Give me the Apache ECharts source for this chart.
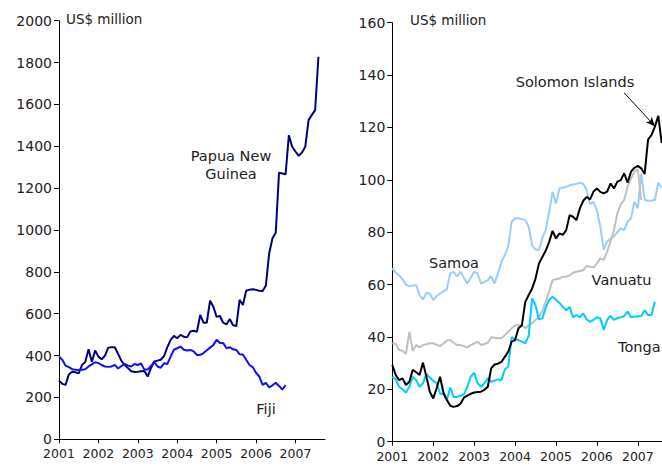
<!DOCTYPE html>
<html>
<head>
<meta charset="utf-8">
<script src="https://cdn.jsdelivr.net/npm/echarts@6/dist/echarts.min.js"></script>
<style>
html,body{margin:0;padding:0;background:#fff;}
#chartBox{width:662px;height:466px;}
</style>
</head>
<body>
<div id="chartBox"></div>
<script>
// monthly data, Jan 2001 onwards
var yearLabels=['2001','2002','2003','2004','2005','2006','2007'];
var leftTicks=[0,200,400,600,800,1000,1200,1400,1600,1800,2000];
var rightTicks=[0,20,40,60,80,100,120,140,160];

var png=[280,265,260,310,323,320,315,355,370,430,370,424,395,382,400,438,440,440,408,375,
	355,340,325,322,323,325,326,300,340,372,376,380,398,440,475,494,483,499,490,487,
	515,519,514,594,557,557,662,633,585,589,557,549,575,545,541,666,642,710,715,717,
	714,710,709,735,889,960,987,1274,1270,1266,1453,1398,1375,1354,1370,1398,1525,1550,1573,1828];
var fiji=[395,380,352,345,335,332,331,332,335,348,358,368,364,355,348,346,348,356,338,350,
	360,352,348,360,355,362,333,333,350,370,348,342,363,360,395,428,435,443,428,424,
	427,420,403,403,412,425,438,450,476,460,460,435,440,430,427,406,405,380,355,345,
	318,300,260,270,248,258,270,255,238,259];

var samoa=[66.2,64.5,63.5,62,60,59.4,59.6,59.8,56,54.3,56.9,56.6,54.1,55.6,56.6,57.5,58.2,64.3,64.9,63,
	64.9,62.5,60.4,62.5,64.9,64.3,60.4,61,61.7,63.2,60.4,64.3,68.7,71.3,74.5,84,85.3,85.3,85,84.6,
	82.1,75,73.3,73.3,77.8,80.8,87.7,95.4,90.9,96.7,97,97.3,97.9,98.2,98.5,98.9,98.5,96.1,90.7,91.6,
	88.4,82.1,73.3,76.5,77.5,78.4,80,81.5,80.8,84,85.3,91.6,89.1,102.4,92.3,92,92,92.3,98.9,97];
var vanuatu=[37.6,37.3,35,34.7,33.5,42,34.7,36.9,36,36.9,37.2,37.6,37.6,37,36.5,37.5,38.6,38.8,37.8,36.9,
	36.9,36.5,36,36.9,37.5,38.2,36.9,37.3,37.8,39.9,39.7,39.5,39.5,40.7,42,43.3,44.5,44.5,44.5,43.3,
	44.5,45.2,46.5,47.5,50,53.4,57.5,61.7,62,62.3,63,63,63.5,64.5,64.9,65.2,65.5,67.1,66.8,66.6,
	68.1,70,69.4,72.6,76.5,80.8,87.2,90.7,92.3,97.4,100.5,103.1,104,92.3];
var tonga=[24.8,23.8,21,20,18.8,21,24.8,23.5,21,22.3,25.8,24.5,23.3,22.3,18.4,18.1,15.9,20.7,17.1,17.1,
	17.6,18.1,21,24.8,26.3,22.3,21,22.3,24.2,22.9,23.3,23.8,23.5,27.6,28.6,39.9,39.1,38.8,38.2,37.6,
	40.4,54.7,52.2,46.7,47.1,51.3,54.1,55.4,54.2,53,51.5,50.2,51.5,47.5,48.4,47.5,49,46.7,45.8,46.5,
	47.5,47.1,42.7,46.5,48,46.5,47.2,47.5,48,49.7,47.5,47.8,47.8,48,50.2,48.4,48.4,53.4];
var solomon=[29.3,25.5,23.5,24.2,21.6,22.9,27.5,26.5,25.5,30.2,24.8,19.1,16.5,20.4,24.8,18.7,15.9,13.7,13.3,13.6,
	14.5,16.8,17.6,18.3,18.8,19,19.1,19.8,21,28,29.5,29.8,30.5,32.4,34.4,38.2,38.8,43.3,44.5,53.4,
	56,58.5,62.3,68,70.5,73,76.3,80.5,77.6,79.5,79,80.8,86.5,85.9,84.6,89.1,92,93.5,92.5,95.5,
	96.7,95.4,94.8,95.5,98.6,96.7,99.3,99.9,102.5,98.9,103.1,104.6,105.3,104.4,102.2,115.4,117.1,120.3,124.4,114];

function months(n){
	var arr=[];
	for(var i=0;i<n;i++){
		var m=i%12+1;
		arr.push((2001+Math.floor(i/12))+'-'+(m<10?'0'+m:m));
	}
	return arr;
}
var leftMonths=months(82);
var rightMonths=months(80);

var font='DejaVu Sans';

function xAxisCfg(idx,cats){
	return {
		type:'category',
		gridIndex:idx,
		data:cats,
		boundaryGap:false,
		axisLine:{lineStyle:{color:'#000',width:1}},
		axisTick:{show:true,inside:false,length:4,lineStyle:{color:'#000'},
			interval:function(i){return i%12===0;}},
		axisLabel:{
			interval:function(i){return i%12===0;},
			formatter:function(v){return yearLabels[parseInt(v,10)-2001]||'';},
			fontFamily:font,fontSize:12.5,color:'#222',margin:8
		},
		splitLine:{show:false}
	};
}
function yAxisCfg(idx,ticks){
	return {
		type:'value',
		gridIndex:idx,
		min:ticks[0],
		max:ticks[ticks.length-1],
		interval:ticks[1]-ticks[0],
		axisLine:{show:true,lineStyle:{color:'#000',width:1}},
		axisTick:{show:true,inside:false,length:5,lineStyle:{color:'#000'}},
		axisLabel:{fontFamily:font,fontSize:14,color:'#222',margin:7,
			formatter:function(v){return String(v);}},
		splitLine:{show:false}
	};
}
function lineSeries(name,xi,data,color){
	return {
		name:name,
		type:'line',
		xAxisIndex:xi,
		yAxisIndex:xi,
		data:data,
		symbol:'none',
		lineStyle:{color:color,width:2},
		itemStyle:{color:color},
		emphasis:{disabled:true}
	};
}
function txt(x,y,s,align){
	return {type:'text',x:x,y:y,style:{text:s,fontFamily:font,fontSize:14.5,fill:'#222',
		align:align||'center',verticalAlign:'middle'}};
}

var myChart=echarts.init(document.getElementById('chartBox'),null,{renderer:'svg'});
var solomonSeries=lineSeries('Solomon Islands',1,solomon,'#000000');
solomonSeries.markLine={
	silent:true,
	symbol:['none','arrow'],
	symbolSize:[6,9],
	label:{show:false},
	lineStyle:{color:'#000',width:1,type:'solid'},
	data:[[{coord:[rightMonths[68],133.2]},{coord:[rightMonths[77],120.5]}]]
};

option={
	animation:false,
	grid:[
		{left:59,top:20.7,width:266,height:418.6},
		{left:392.3,top:22.7,width:269.4,height:419}
	],
	xAxis:[xAxisCfg(0,leftMonths),xAxisCfg(1,rightMonths)],
	yAxis:[yAxisCfg(0,leftTicks),yAxisCfg(1,rightTicks)],
	series:[
		lineSeries('Papua New Guinea',0,png,'#000080'),
		lineSeries('Fiji',0,fiji,'#1010f0'),
		lineSeries('Samoa',1,samoa,'#99ccff'),
		lineSeries('Vanuatu',1,vanuatu,'#c0c0c0'),
		lineSeries('Tonga',1,tonga,'#00ccff'),
		solomonSeries
	],
	graphic:[
		{type:'text',x:66,y:18.5,style:{text:'US$ million',fontFamily:font,fontSize:13.5,fill:'#222',verticalAlign:'middle'}},
		{type:'text',x:410,y:19.5,style:{text:'US$ million',fontFamily:font,fontSize:13.5,fill:'#222',verticalAlign:'middle'}},
		txt(231,156,'Papua New'),
		txt(231,174,'Guinea'),
		txt(266,409,'Fiji'),
		txt(575,81.5,'Solomon Islands'),
		txt(454,262.5,'Samoa'),
		txt(621.5,280,'Vanuatu'),
		txt(618,346.5,'Tonga','left')
	]
};
myChart.setOption(option);
</script>
</body>
</html>
